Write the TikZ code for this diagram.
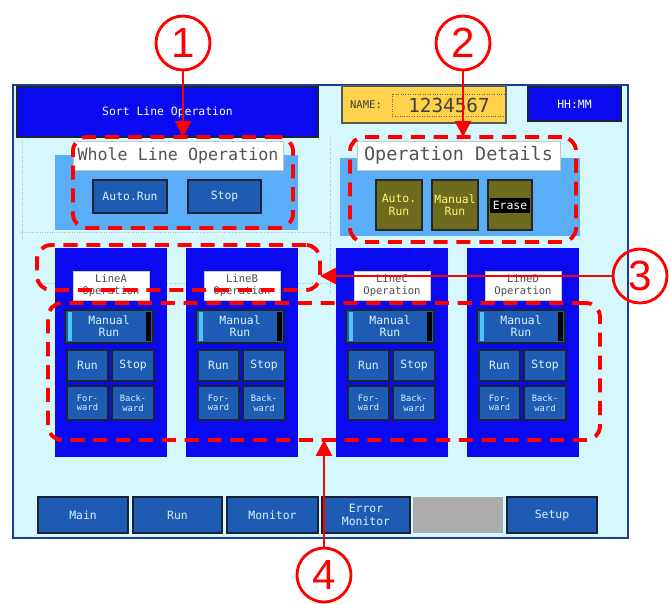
\documentclass[tikz,border=0pt]{standalone}
\usepackage{fontspec}
\usetikzlibrary{arrows.meta}
\newfontfamily\scrfont{DejaVu Sans Mono}
\newfontfamily\numfont{Liberation Sans}
\definecolor{scrbg}{HTML}{D6F7FC}
\definecolor{scrframe}{HTML}{1B3E9C}
\definecolor{barblue}{HTML}{0A0AF0}
\definecolor{panelblue}{HTML}{5AAEF8}
\definecolor{keyblue}{HTML}{1E5CB4}
\definecolor{keyedge}{HTML}{1A2233}
\definecolor{keyolive}{HTML}{6E6B1E}
\definecolor{namegold}{HTML}{FFD24C}
\definecolor{callred}{HTML}{FF0000}

\tikzset{
  ui/.style={rectangle, inner sep=0pt, outer sep=0pt},
  uiscreen/.style={ui, fill=scrbg, draw=scrframe, line width=1.5pt},
  uibar/.style={ui, fill=barblue, draw=keyedge, line width=0.6pt, text=white,
    font=\scrfont\fontsize{6.5}{7}\selectfont},
  uiname/.style={ui, fill=namegold, draw=gray!70!black, line width=0.6pt},
  uigroup/.style={ui, fill=panelblue},
  uicaption/.style={ui, fill=white, draw=gray!45, text=gray!65!black,
    font=\scrfont\fontsize{9.5}{11}\selectfont},
  uikey/.style={ui, fill=keyblue, draw=keyedge, line width=1.2pt, text=white!85!cyan,
    align=center, font=\scrfont\fontsize{6.5}{7}\selectfont},
  uismallkey/.style={uikey, font=\scrfont\fontsize{5}{5.5}\selectfont},
  uiokey/.style={uikey, fill=keyolive, draw=black!85, text=yellow!55!white},
  uiline/.style={ui, fill=barblue},
  uilinecap/.style={ui, fill=white, draw=gray!40, text=black!70, align=center,
    font=\scrfont\fontsize{6}{6.5}\selectfont},
  uigrid/.style={gray!55, densely dotted, line width=0.4pt},
  callout/.style={ui, draw=callred, line width=2.2pt, dash pattern=on 8pt off 5pt,
    rounded corners=8pt},
  callnum/.style={circle, draw=callred, line width=1.6pt, minimum size=1.08cm,
    inner sep=0pt, text=callred, font=\numfont\fontsize{24}{24}\selectfont},
  pointer/.style={draw=callred, line width=1.6pt, -{Triangle[length=9pt,width=9pt]}},
}

% box from its corners (x1,y1) (x2,y2), in pixels
\newcommand\uibox[7]{\node[#1, minimum width={((#5)-(#3))*0.02cm},
  minimum height={((#6)-(#4))*0.02cm}] (#2) at ({((#3)+(#5))/2},{((#4)+(#6))/2}) {#7};}

\begin{document}
\begin{tikzpicture}[x=0.02cm, y=-0.02cm]
\useasboundingbox (0,0) rectangle (671,603);

% screen
\uibox{uiscreen}{screen}{13}{85}{628}{538}{}
\draw[uigrid] (22,140) -- (22,240);
\draw[uigrid] (330,137) -- (330,292);
\draw[uigrid] (20,232) -- (330,232);
\draw[uigrid] (37,283) -- (330,283);

% top bar
\uibox{uibar}{title}{17}{87}{318}{137}{Sort Line Operation}
\uibox{uiname}{name}{342}{86}{506}{123}{}
\node[font=\scrfont\fontsize{6}{7}\selectfont, text=black!75] (namelbl) at (366,105) {NAME:};
\draw[densely dotted, black!60] (392,94) rectangle (505,116);
\node[font=\scrfont\fontsize{11}{12}\selectfont, text=black!75] (nameval) at (449,105) {1234567};
\uibox{uibar}{clock}{528}{87}{621}{121}{HH:MM}

% whole line operation
\uibox{uigroup}{wholebg}{55}{155}{298}{230}{}
\uibox{uicaption}{wholecap}{73}{141}{283}{170}{Whole Line Operation}
\uibox{uikey}{wholeAuto}{93}{180}{167}{213}{Auto.Run}
\uibox{uikey}{wholeStop}{188}{180}{261}{213}{Stop}

% operation details
\uibox{uigroup}{detbg}{340}{158}{580}{236}{}
\uibox{uicaption, font=\scrfont\fontsize{10.5}{11}\selectfont}{detcap}{357}{141}{560}{170}{Operation Details}
\uibox{uiokey}{detAuto}{376}{180}{422}{230}{Auto.\\Run}
\uibox{uiokey}{detManual}{432}{180}{478}{230}{Manual\\Run}
\uibox{uiokey}{detErase}{488}{180}{532}{230}{}
\node[ui, fill=black, text=white, font=\scrfont\fontsize{6.5}{7}\selectfont,
  minimum width=0.8cm, minimum height=0.3cm] (eraseTag) at (detErase) {Erase};

% line panels
\foreach \x/\n in {55/A,186/B,336/C,467/D}{
  \uibox{uiline}{line\n}{\x}{248}{\x+112}{457}{}
  \uibox{uilinecap}{cap\n}{\x+18}{271}{\x+94}{300}{Line\n\\Operation}
  \uibox{uikey}{man\n}{\x+10}{310}{\x+98}{343}{Manual\\Run}
  \fill[cyan!70!white] (\x+13,312) rectangle (\x+17,341);
  \fill[black] (\x+91,312) rectangle (\x+96,341);
  \uibox{uikey}{run\n}{\x+12}{350}{\x+53}{381}{Run}
  \uibox{uikey}{stop\n}{\x+57}{350}{\x+99}{381}{Stop}
  \uibox{uismallkey}{fwd\n}{\x+12}{386}{\x+53}{420}{For-\\ward}
  \uibox{uismallkey}{bwd\n}{\x+57}{386}{\x+99}{420}{Back-\\ward}
}

% bottom menu
\uibox{uikey}{mMain}{38}{497}{128}{533}{Main}
\uibox{uikey}{mRun}{133}{497}{222}{533}{Run}
\uibox{uikey}{mMonitor}{227}{497}{318}{533}{Monitor}
\uibox{uikey}{mError}{322}{497}{410}{533}{Error\\Monitor}
\uibox{ui, fill=gray!65}{mBlank}{413}{497}{503}{533}{}
\uibox{uikey}{mSetup}{507}{497}{597}{533}{Setup}

% callouts
\uibox{callout}{b1}{73}{137}{293}{228}{}
\uibox{callout}{b2}{350}{137}{576}{242}{}
\uibox{callout}{b3}{37}{245}{320}{290}{}
\uibox{callout}{b4}{48}{303}{600}{440}{}

\node[callnum] (c1) at (183,43) {1};
\node[callnum] (c2) at (463,43) {2};
\node[callnum] (c3) at (640,276) {3};
\node[callnum] (c4) at (324,575) {4};

\draw[pointer] (c1) -- (b1.north);
\draw[pointer] (c2) -- (b2.north);
\draw[pointer] (c3) -- (c3 -| b3.east);
\draw[pointer] (c4) -- (c4 |- b4.south);
\end{tikzpicture}
\end{document}
